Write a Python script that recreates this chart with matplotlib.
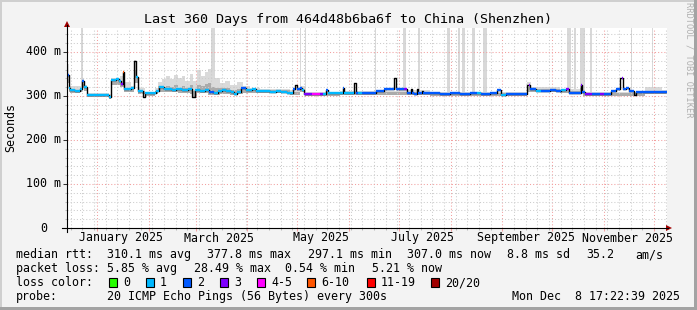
import datetime as dt

import matplotlib
matplotlib.use("Agg")
import matplotlib.pyplot as plt
import matplotlib.transforms as mtransforms
from matplotlib.lines import Line2D
from matplotlib.patches import Polygon, Rectangle
import numpy as np

W, H = 697, 310
START = dt.datetime(2024, 12, 13, 17, 22, 39)
SPAN_DAYS = 360
MONO = "DejaVu Sans Mono"

# median rtt in ms, step-wise from each day offset; loss bucket index (-1 = only the black line)
median_day = [0.0, 0.9, 1.8, 4.8, 7.8, 9.0, 10.2, 11.7, 16.8, 19.8, 22.8, 25.2, 26.1, 29.4,
              31.2, 32.4, 33.3, 34.2, 36.6, 38.4, 40.2, 41.4, 42.3, 45.6, 46.8, 53.4, 55.2,
              58.2, 63.0, 65.4, 69.0, 72.6, 75.0, 76.8, 79.8, 82.8, 85.2, 88.2, 90.6, 93.0,
              95.4, 98.4, 100.2, 102.0, 104.4, 107.4, 111.0, 113.4, 117.0, 121.8, 125.4,
              128.4, 132.0, 135.6, 136.8, 138.0, 139.8, 141.0, 142.2, 147.0, 151.8, 153.6,
              155.4, 156.6, 163.8, 165.3, 166.2, 171.9, 173.1, 174.6, 177.0, 185.4, 190.2,
              196.2, 197.1, 202.2, 204.0, 206.1, 207.0, 208.2, 209.7, 210.6, 212.7, 213.6,
              223.8, 229.8, 235.8, 241.8, 246.0, 248.4, 253.8, 258.0, 260.4, 263.4, 275.7,
              276.9, 277.8, 281.4, 284.4, 289.8, 293.4, 296.4, 299.4, 301.2, 306.6, 308.1,
              309.0, 310.8, 315.0, 319.8, 322.2, 326.4, 329.4, 331.5, 332.7, 333.6, 335.4,
              337.2, 340.2, 341.4]
median_ms = [348, 318, 314, 312, 316, 334, 321, 302, 303, 302, 303, 298, 336, 338,
             334, 327, 354, 317, 316, 318, 380, 344, 311, 298, 306, 312, 320,
             315, 314, 316, 313, 315, 298, 314, 312, 314, 309, 306, 311, 314,
             311, 308, 305, 310, 318, 313, 315, 311, 312, 310, 311,
             308, 307, 316, 325, 316, 319, 313, 305, 304, 305, 305,
             314, 306, 307, 318, 306, 329, 306, 307, 306, 311, 315,
             342, 317, 316, 306, 317, 307, 304, 315, 306, 312, 306,
             305, 306, 305, 306, 306, 305, 306, 313, 302, 304, 325,
             326, 317, 311, 312, 313, 311, 313, 315, 306, 307, 325,
             310, 305, 305, 304, 305, 312, 317, 340, 342, 317, 318,
             311, 303, 310]
loss_bucket = [2, 1, 1, 1, 1, 2, 1, 1, 1, 1, 1, 1, 1, 1,
               1, 3, 5, 1, 1, 1, -1, 1, 1, -1, 1, 1, 1,
               1, 1, 1, 1, 1, -1, 1, 1, 1, 2, 1, 1, 1,
               1, 1, 1, 1, 2, 1, 1, 1, 1, 1, 1,
               1, 1, 2, -1, 2, 2, 1, 3, 4, 3, 1,
               2, 1, 1, 2, 1, -1, 2, 1, 2, 2, 2,
               -1, 2, 3, 2, -1, 2, 2, -1, 2, -1, 2,
               2, 2, 2, 2, 1, 2, 2, 2, 1, 2, -1,
               3, 2, 1, 2, 2, 2, 1, 3, 2, 2, 3,
               2, 3, 2, 3, 2, 2, 2, -1, 3, 2, 2,
               2, -1, 2]

# smoke (spread of the 20 pings) in ms
smoke_day = [0.0, 0.9, 1.8, 7.8, 9.0, 10.2, 11.7, 25.2, 26.1, 31.8, 34.2, 38.4, 40.2, 41.4,
             42.3, 46.8, 52.8, 54.6, 57.0, 59.4, 61.8, 64.2, 66.6, 69.0, 70.8, 73.8, 75.6,
             78.0, 80.4, 82.8, 84.6, 86.4, 88.8, 91.8, 94.8, 97.8, 102.0, 105.6, 109.8,
             115.8, 133.8, 139.8, 142.8, 163.8, 175.8, 199.8, 217.8, 271.8, 276.0, 278.4,
             295.8, 307.8, 309.6, 346.8, 357.0]
smoke_lo = [330, 308, 306, 308, 318, 312, 298, 294, 326, 320, 310, 310, 330, 330,
            304, 300, 304, 310, 308, 308, 308, 308, 306, 306, 306, 304, 296,
            306, 306, 306, 302, 302, 302, 304, 304, 302, 304, 306, 306,
            306, 302, 308, 300, 302, 302, 302, 300, 300, 310, 310,
            306, 306, 300, 304, 304]
smoke_mid = [350, 318, 312, 316, 328, 318, 302, 298, 336, 330, 318, 318, 360, 340,
             312, 306, 312, 322, 320, 322, 320, 324, 318, 322, 318, 324, 312,
             326, 322, 328, 330, 320, 318, 318, 318, 314, 316, 316, 314,
             314, 310, 316, 306, 308, 308, 310, 306, 305, 320, 316,
             312, 318, 306, 312, 310]
smoke_hi = [372, 330, 322, 322, 338, 324, 306, 304, 342, 346, 332, 322, 382, 346,
            318, 310, 318, 332, 338, 345, 338, 348, 340, 346, 335, 350, 335,
            358, 345, 355, 362, 345, 340, 330, 335, 325, 332, 322, 318,
            316, 314, 322, 310, 312, 312, 314, 310, 308, 332, 320,
            316, 326, 310, 321, 314]

# pings far off the scale (smoke runs past the top)
spike_start = [8.4, 86.4, 139.8, 142.8, 184.8, 201.6, 210.3, 228.0, 234.6, 237.0, 243.0,
               249.6, 300.0, 304.2, 307.8, 313.8, 338.1, 351.0]
spike_end = [9.3, 88.8, 140.4, 143.4, 185.4, 203.1, 211.5, 229.8, 235.8, 238.8, 244.8,
             252.0, 302.1, 305.4, 310.8, 314.7, 338.7, 351.6]

y_ticks = [0, 100, 200, 300, 400]
y_tick_labels = ["0", "100 m", "200 m", "300 m", "400 m"]
x_label_months = [(2025, 1), (2025, 3), (2025, 5), (2025, 7), (2025, 9), (2025, 11)]

loss_labels = ["0", "1", "2", "3", "4-5", "6-10", "11-19", "20/20"]
loss_colors = ["#26ff00", "#00b8ff", "#0059ff", "#7e00ff", "#ff00ff", "#ff5500", "#ff0000", "#a10000"]

title = "Last 360 Days from 464d48b6ba6f to China (Shenzhen)"
rtt_row = [("median rtt:", 16), ("310.1 ms avg", 107.3), ("377.8 ms max", 207.3),
           ("297.1 ms min", 308), ("307.0 ms now", 407.3), ("8.8 ms sd", 507.3),
           ("35.2", 586), ("am/s", 635)]
loss_row = [("packet loss:", 16), ("5.85 % avg", 107.3), ("28.49 % max", 194),
            ("0.54 % min", 285), ("5.21 % now", 372)]
probe_text = "20 ICMP Echo Pings (56 Bytes) every 300s"
stamp_text = "Mon Dec  8 17:22:39 2025"


def days(when):
    return (when - START).total_seconds() / 86400


def fx(x):
    return x / W


def fy(y):
    return 1 - y / H


fig = plt.figure(figsize=(W / 100, H / 100), dpi=100, facecolor="#f3f3f3")

# frame shading
fig.patches.extend([
    Rectangle((0, 1 - 2 / H), 1, 2 / H, transform=fig.transFigure, color="#cfcfcf", lw=0),
    Rectangle((0, 0), 2 / W, 1, transform=fig.transFigure, color="#cfcfcf", lw=0),
    Rectangle((0, 0), 1, 3 / H, transform=fig.transFigure, color="#a3a3a3", lw=0),
    Rectangle((1 - 3 / W, 0), 3 / W, 1, transform=fig.transFigure, color="#a3a3a3", lw=0),
])

ax = fig.add_axes([fx(67), fy(228), fx(667) - fx(67), fy(28) - fy(228)])
ax.set_facecolor("white")
ax.set_xlim(0, SPAN_DAYS)
ax.set_ylim(0, 454.5)
for spine in ax.spines.values():
    spine.set_visible(False)

# grid
month_starts = [days(dt.datetime(2025, m, 1)) for m in range(1, 13)]
mondays = []
monday = dt.datetime(2024, 12, 16)
while days(monday) < SPAN_DAYS:
    mondays.append(days(monday))
    monday += dt.timedelta(days=7)
ax.set_xticks(month_starts)
ax.set_xticks(mondays, minor=True)
ax.set_yticks(y_ticks[1:])
ax.set_yticks(np.arange(20, 454, 20), minor=True)
ax.set_axisbelow(False)
ax.grid(which="major", color="#f2a0a0", ls=(0, (1, 2)), lw=0.75)
ax.grid(which="minor", color="#cccccc", ls=(0, (1, 2)), lw=0.75)
ax.tick_params(which="both", labelbottom=False, labelleft=False, direction="out")
ax.tick_params(axis="x", which="major", length=2.5, color="#f2a0a0", width=0.75)
ax.tick_params(axis="x", which="minor", length=1.5, color="#bbbbbb", width=0.75)
ax.tick_params(axis="y", which="major", length=3, color="#333333", width=0.75)
ax.tick_params(axis="y", which="minor", length=1.5, color="#bbbbbb", width=0.75)

# off-scale smoke
spike_width = np.array(spike_end) - np.array(spike_start)
ax.bar(spike_start, 460 - 308, width=spike_width, bottom=308, align="edge",
       color="#d8d8d8", lw=0, zorder=1)

# smoke
sx = np.append(smoke_day, SPAN_DAYS)
ax.fill_between(sx, np.append(smoke_lo, smoke_lo[-1]), np.append(smoke_hi, smoke_hi[-1]),
                step="post", color="#dadada", lw=0, zorder=1.2)
ax.fill_between(sx, np.append(smoke_lo, smoke_lo[-1]), np.append(smoke_mid, smoke_mid[-1]),
                step="post", color="#ababab", lw=0, zorder=1.3)

# median line: black base, loss colours on top
mx = np.append(median_day, SPAN_DAYS)
my = np.append(median_ms, median_ms[-1])
ax.step(mx, my, where="post", color="black", lw=1.0, zorder=3)
bucket = np.array(loss_bucket)
for b, colour in enumerate(loss_colors):
    idx = np.where(bucket == b)[0]
    if len(idx) == 0:
        continue
    ax.hlines(np.array(median_ms)[idx], mx[idx], mx[idx + 1], color=colour, lw=1.7, zorder=4)

# axis tick labels
y_trans = mtransforms.blended_transform_factory(fig.transFigure, ax.transData)
for value, label in zip(y_ticks, y_tick_labels):
    right = fx(60.5) if label != "0" else fx(47.5)
    ax.text(right, value, label, transform=y_trans, ha="right", va="center",
            family=MONO, size=8.4)
x_trans = mtransforms.blended_transform_factory(ax.transData, fig.transFigure)
for year, month in x_label_months:
    when = dt.datetime(year, month, 15)
    ax.text(days(when), fy(238), when.strftime("%B %Y"), transform=x_trans,
            ha="center", va="center", family=MONO, size=8.4)

# axis lines with arrows
fig.add_artist(Line2D([fx(62), fx(668)], [fy(228), fy(228)], color="black", lw=0.8))
fig.add_artist(Line2D([fx(67), fx(67)], [fy(232), fy(25)], color="black", lw=0.8))
fig.add_artist(Polygon([(fx(666), fy(225)), (fx(672), fy(228)), (fx(666), fy(231))],
                       closed=True, color="#a00000", lw=0))
fig.add_artist(Polygon([(fx(64), fy(27)), (fx(67), fy(21)), (fx(70), fy(27))],
                       closed=True, color="#a00000", lw=0))

# titles
fig.text(fx(347.5), fy(19), title, ha="center", va="center", family=MONO, size=9.6)
fig.text(fx(10.5), fy(128), "Seconds", rotation=90, ha="center", va="center",
         family=MONO, size=8.4)
fig.text(fx(689), fy(60), "RRDTOOL / TOBI OETIKER", rotation=270, ha="center",
         va="center", family=MONO, size=6.2, color="#b0b0b0")

# legend rows
for text, x in rtt_row:
    fig.text(fx(x), fy(254.5), text, ha="left", va="center", family=MONO, size=8.4)
for text, x in loss_row:
    fig.text(fx(x), fy(268.5), text, ha="left", va="center", family=MONO, size=8.4)
fig.text(fx(16), fy(282.5), "loss color:", ha="left", va="center", family=MONO, size=8.4)
box_x = [108.5, 145.5, 182.5, 219.5, 256.5, 306.5, 366.5, 431.0]
for x, colour, label in zip(box_x, loss_colors, loss_labels):
    fig.patches.append(Rectangle((fx(x), fy(287)), 8 / W, 9 / H, transform=fig.transFigure,
                                 facecolor=colour, edgecolor="black", lw=0.8))
    fig.text(fx(x + 14.5), fy(282.5), label, ha="left", va="center", family=MONO, size=8.4)
fig.text(fx(16), fy(296.5), "probe:", ha="left", va="center", family=MONO, size=8.4)
fig.text(fx(107.3), fy(296.5), probe_text, ha="left", va="center", family=MONO, size=8.4)
fig.text(fx(680.5), fy(296.5), stamp_text, ha="right", va="center", family=MONO, size=8.4)

fig.savefig("out.png", dpi=100, facecolor=fig.get_facecolor())
